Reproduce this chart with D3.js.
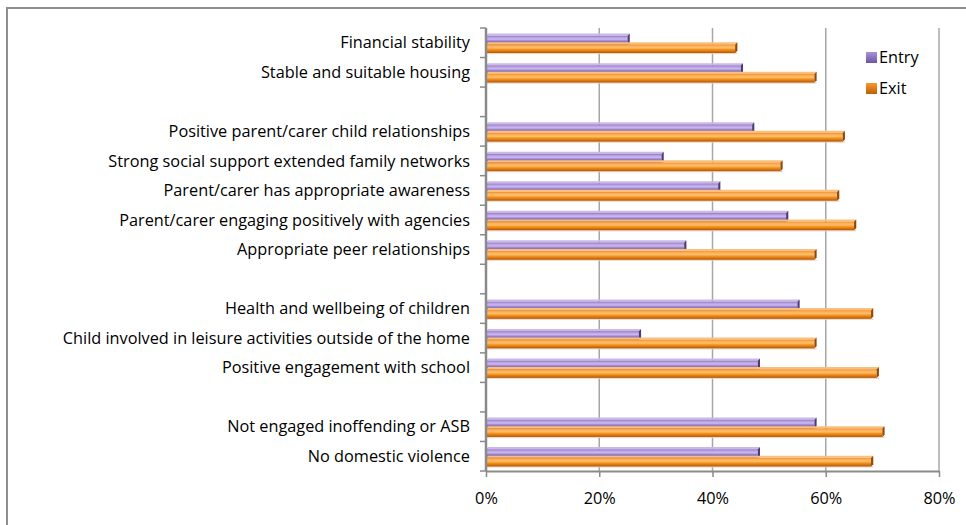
<!DOCTYPE html>
<html>
<head>
<meta charset="utf-8">
<script src="https://cdn.jsdelivr.net/npm/d3@7/dist/d3.min.js"></script>
<style>
  html, body { margin: 0; padding: 0; background: #fff; }
  svg { display: block; }
  text { font-family: "Open Sans", Lato, sans-serif; fill: #000; }
</style>
</head>
<body>
<svg id="chart" width="966" height="525"></svg>
<script>
// Outcome areas (empty strings are spacer rows between groups)
const categories = [
  "Financial stability",
  "Stable and suitable housing",
  "",
  "Positive parent/carer child relationships",
  "Strong social support extended family networks",
  "Parent/carer has appropriate awareness",
  "Parent/carer engaging positively with agencies",
  "Appropriate peer relationships",
  "",
  "Health and wellbeing of children",
  "Child involved in leisure activities outside of the home",
  "Positive engagement with school",
  "",
  "Not engaged inoffending or ASB",
  "No domestic violence"
];
// Percentage of families meeting each outcome
const entryValues = [25, 45, null, 47, 31, 41, 53, 35, null, 55, 27, 48, null, 58, 48];
const exitValues  = [44, 58, null, 63, 52, 62, 65, 58, null, 68, 58, 69, null, 70, 68];
const seriesNames = ["Entry", "Exit"];
const xTicks = [0, 20, 40, 60, 80];

const svg = d3.select("#chart");
const plot = { left: 486, right: 939, top: 28, bottom: 471 };
const fontSize = "16.3px";

// Outer frame
svg.append("rect")
  .attr("x", 7).attr("y", 8)
  .attr("width", 970).attr("height", 530)
  .attr("fill", "none").attr("stroke", "#8e8e8e").attr("stroke-width", 2);

const x = d3.scaleLinear().domain([0, 80]).range([plot.left, plot.right]);
const y = d3.scaleBand().domain(d3.range(categories.length)).range([plot.top, plot.bottom]).padding(0);

// Gradients for the cylinder-like shading
const defs = svg.append("defs");
function grad(id, stops) {
  const g = defs.append("linearGradient").attr("id", id)
    .attr("x1", 0).attr("y1", 0).attr("x2", 0).attr("y2", 1);
  stops.forEach(([o, c]) => g.append("stop").attr("offset", o).attr("stop-color", c));
}
grad("gEntry", [[0, "#8d78b4"], [0.18, "#b79fe2"], [0.4, "#cdb8f3"], [0.6, "#9a82c8"], [0.85, "#7a63a6"], [1, "#5a4780"]]);
grad("gExit",  [[0, "#ea8b2c"], [0.18, "#fdb05a"], [0.4, "#ffbd66"], [0.6, "#f3931f"], [0.85, "#d06d10"], [1, "#a9550c"]]);
grad("gSwEntry", [[0, "#a891d6"], [0.5, "#8e72c2"], [1, "#6e55a0"]]);
grad("gSwExit",  [[0, "#f29a3a"], [0.5, "#e07b12"], [1, "#b8600c"]]);
const series = [
  { name: seriesNames[0], values: entryValues, fill: "url(#gEntry)", top: "#cab7ec", side: "#4e3b73", shadow: "#cfc6dc", swatch: "url(#gSwEntry)" },
  { name: seriesNames[1], values: exitValues,  fill: "url(#gExit)",  top: "#fbbf7c", side: "#934608", shadow: "#edd2b8", swatch: "url(#gSwExit)" }
];

// Vertical gridlines
svg.append("g").selectAll("line").data(xTicks.slice(1)).join("line")
  .attr("x1", d => x(d)).attr("x2", d => x(d))
  .attr("y1", plot.top).attr("y2", plot.bottom)
  .attr("stroke", "#a6a6a6").attr("stroke-width", 1.5);

// Bars (front face + top face + end face)
const barH = 8.6, depth = 2.2;
const gBars = svg.append("g");
series.forEach((s, si) => {
  const rows = s.values.map((v, i) => ({ v, i })).filter(d => d.v != null);
  const g = gBars.append("g");
  rows.forEach(d => {
    const y0 = y(d.i) + 7.8 + si * barH;
    const x0 = x(0), x1 = x(d.v);
    // soft shadow below bar
    g.append("rect").attr("x", x0).attr("y", y0 + barH - 0.5)
      .attr("width", x1 - x0 + depth).attr("height", 1.6)
      .attr("fill", s.shadow).attr("opacity", 0.9);
    g.append("path")
      .attr("d", `M${x0},${y0} L${x0 + depth},${y0 - depth} L${x1 + depth},${y0 - depth} L${x1},${y0} Z`)
      .attr("fill", s.top);
    g.append("rect").attr("x", x0).attr("y", y0)
      .attr("width", x1 - x0).attr("height", barH)
      .attr("fill", s.fill);
    g.append("path")
      .attr("d", `M${x1},${y0} L${x1 + depth},${y0 - depth} L${x1 + depth},${y0 + barH - depth} L${x1},${y0 + barH} Z`)
      .attr("fill", s.side);
  });
});

// Left axis: category labels centred on rows, ticks on row boundaries
const yAxis = d3.axisLeft(y).tickSize(0).tickPadding(16).tickFormat(i => categories[i]);
const gy = svg.append("g").attr("transform", `translate(${plot.left},0)`).call(yAxis);
gy.select(".domain").remove();
gy.selectAll("text").style("font-size", fontSize).attr("dy", "0.35em");
svg.append("g").selectAll("line").data(d3.range(categories.length + 1)).join("line")
  .attr("x1", plot.left - 6).attr("x2", plot.left)
  .attr("y1", i => plot.top + i * y.step()).attr("y2", i => plot.top + i * y.step())
  .attr("stroke", "#8a8a8a").attr("stroke-width", 1.5);
svg.append("line").attr("x1", plot.left).attr("x2", plot.left)
  .attr("y1", plot.top).attr("y2", plot.bottom)
  .attr("stroke", "#8a8a8a").attr("stroke-width", 2.5);

// Bottom axis
const xAxis = d3.axisBottom(x).tickValues(xTicks).tickFormat(d => d + "%").tickSize(6).tickPadding(15);
const gx = svg.append("g").attr("transform", `translate(0,${plot.bottom})`).call(xAxis);
gx.select(".domain").attr("stroke", "#8a8a8a").attr("stroke-width", 2).attr("d", `M${plot.left},0.5H${plot.right}`);
gx.selectAll(".tick line").attr("stroke", "#8a8a8a").attr("stroke-width", 1.5);
gx.selectAll("text").style("font-size", fontSize);

// Legend
const legend = svg.append("g").attr("transform", "translate(866,52)");
series.forEach((s, i) => {
  const g = legend.append("g").attr("transform", `translate(0,${i * 31})`);
  g.append("rect").attr("width", 11).attr("height", 11).attr("fill", s.swatch);
  g.append("text").attr("x", 13).attr("y", 5.5).attr("dy", "0.35em")
    .style("font-size", fontSize).text(s.name);
});
</script>
</body>
</html>
